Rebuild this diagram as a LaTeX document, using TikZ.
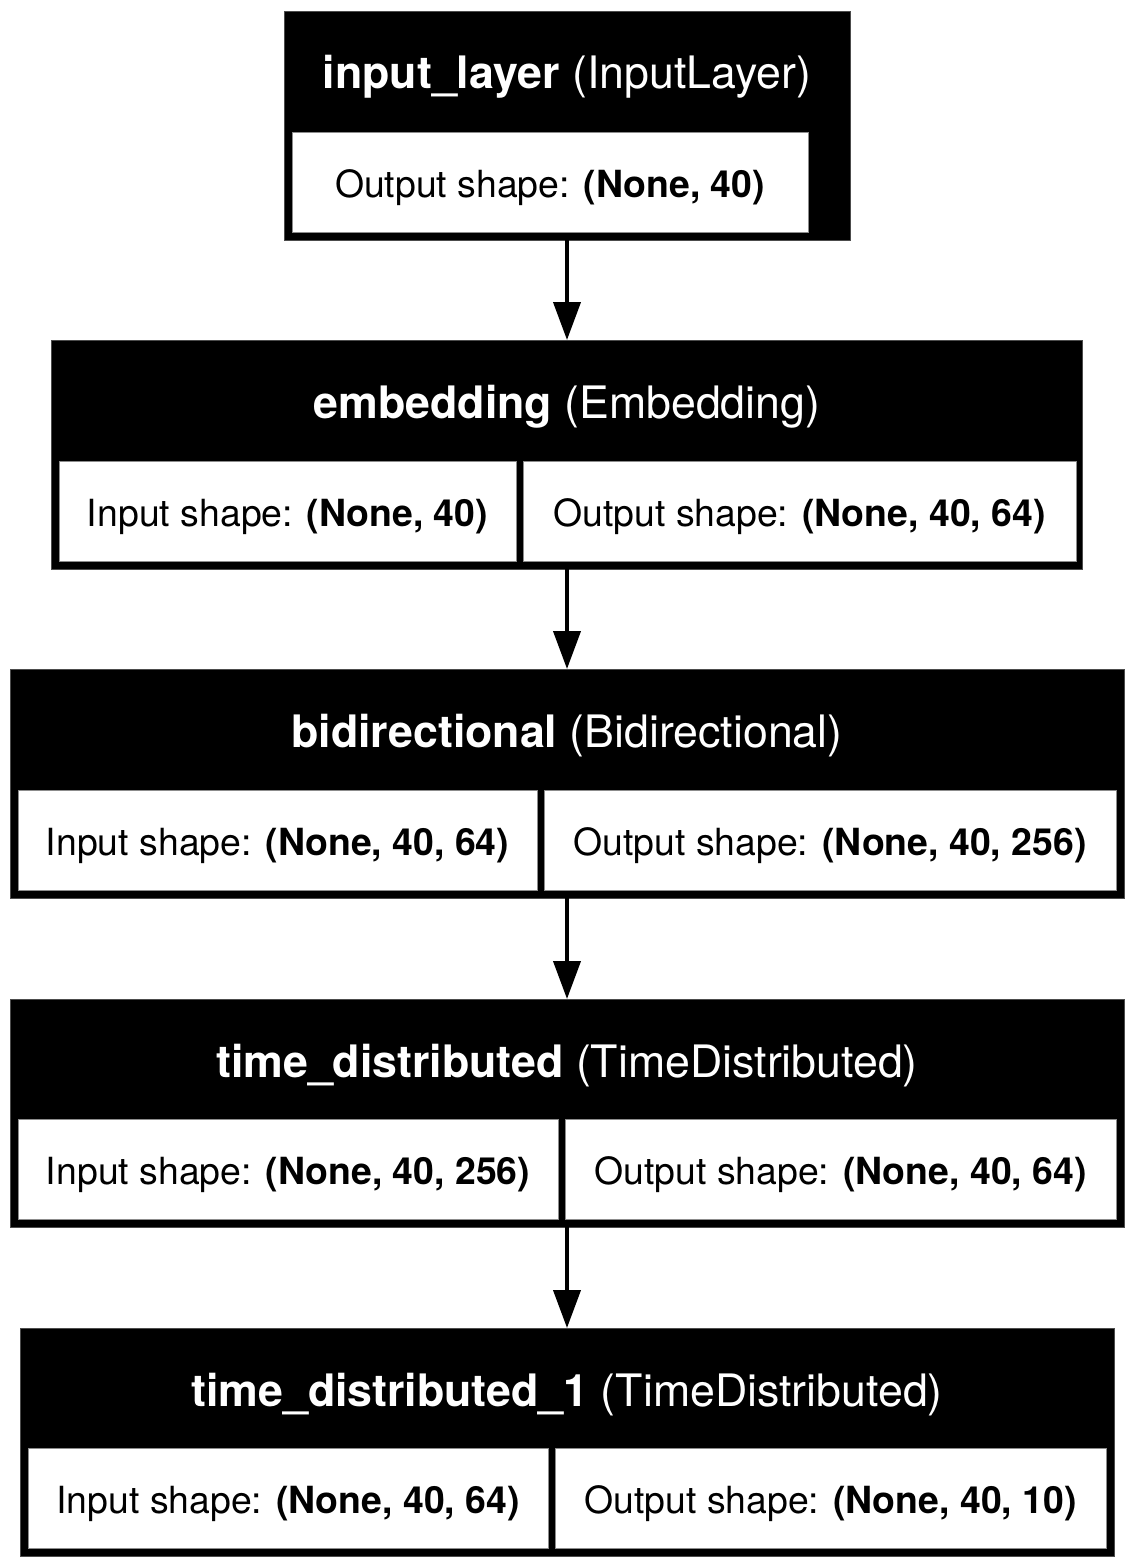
\documentclass[tikz,border=0pt]{standalone}
\usepackage{fontspec}
\setmainfont{TeX Gyre Heros}
\usetikzlibrary{arrows.meta}
\begin{document}
\begin{tikzpicture}[x=1pt,y=-1pt,
  blk/.style={draw=black!70,line width=0.8pt,fill=black,inner sep=0pt,outer sep=0pt},
  cell/.style={draw=black!45,line width=0.8pt,fill=white,inner sep=0pt,outer sep=0pt,
    minimum height=100pt,text height=37pt,text depth=7pt,font=\fontsize{37.4}{44}\selectfont},
  ttl/.style={anchor=base,text=white,inner sep=0pt,font=\fontsize{44.7}{52}\selectfont},
  arr/.style={line width=4pt,-{Triangle[width=27pt,length=38pt]}}]
\useasboundingbox[fill=white] (0,0) rectangle (1134,1568);
% block 1
\node[blk,minimum width=566pt,minimum height=229pt] (b1) at (567,125.5) {};
\node[ttl] (t1) at (567,89) {\textbf{input\_layer} (InputLayer)};
\node[cell,minimum width=516pt] (c1) at (550,182) {Output shape: \textbf{(None, 40)}};
% block 2
\node[blk,minimum width=1031pt,minimum height=229pt] (b2) at (567,454.5) {};
\node[ttl] (t2) at (567,418) {\textbf{embedding} (Embedding)};
\node[cell,minimum width=457pt] (c2a) at (287.5,511) {Input shape: \textbf{(None, 40)}};
\node[cell,minimum width=553pt] (c2b) at (799.5,511) {Output shape: \textbf{(None, 40, 64)}};
% block 3
\node[blk,minimum width=1114pt,minimum height=229pt] (b3) at (567,783.5) {};
\node[ttl] (t3) at (567,747) {\textbf{bidirectional} (Bidirectional)};
\node[cell,minimum width=519pt] (c3a) at (277.5,840) {Input shape: \textbf{(None, 40, 64)}};
\node[cell,minimum width=572pt] (c3b) at (830,840) {Output shape: \textbf{(None, 40, 256)}};
% block 4
\node[blk,minimum width=1114pt,minimum height=228pt] (b4) at (567,1113) {};
\node[ttl] (t4) at (567,1077) {\textbf{time\_distributed} (TimeDistributed)};
\node[cell,minimum width=540pt] (c4a) at (288,1169) {Input shape: \textbf{(None, 40, 256)}};
\node[cell,minimum width=551pt] (c4b) at (840.5,1169) {Output shape: \textbf{(None, 40, 64)}};
% block 5
\node[blk,minimum width=1094pt,minimum height=228pt] (b5) at (567,1442) {};
\node[ttl] (t5) at (567,1406) {\textbf{time\_distributed\_1} (TimeDistributed)};
\node[cell,minimum width=520pt] (c5a) at (288,1498) {Input shape: \textbf{(None, 40, 64)}};
\node[cell,minimum width=551pt] (c5b) at (830.5,1498) {Output shape: \textbf{(None, 40, 10)}};
% arrows
\draw[arr] (b1.south) -- (b2.north);
\draw[arr] (b2.south) -- (b3.north);
\draw[arr] (b3.south) -- (b4.north);
\draw[arr] (b4.south) -- (b5.north);
\end{tikzpicture}
\end{document}
